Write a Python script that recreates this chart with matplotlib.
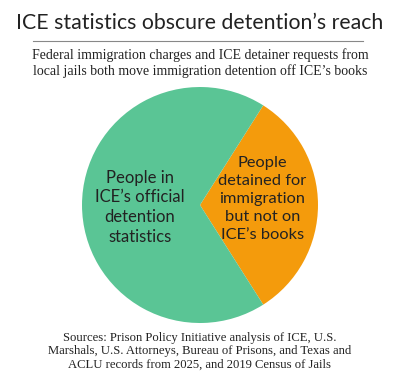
import matplotlib
matplotlib.use("Agg")
import matplotlib.pyplot as plt

# share of people detained for immigration
labels = ["People\ndetained for\nimmigration\nbut not on\nICE\u2019s books",
          "People in\nICE\u2019s official\ndetention\nstatistics"]
shares = [32, 68]
colors = ["#F49B0C", "#5AC595"]

fig = plt.figure(figsize=(4, 3.8), dpi=100)
fig.patch.set_facecolor("white")

# title + rule + subtitle
fig.text(0.5, 0.94, "ICE statistics obscure detention\u2019s reach",
         ha="center", va="center", fontsize=15.3, family="Lato", color="#222222")
fig.add_artist(plt.Line2D([0.083, 0.908], [0.892, 0.892], color="#888888", lw=0.8))
fig.text(0.5, 0.835, "Federal immigration charges and ICE detainer requests from\n"
         "local jails both move immigration detention off ICE\u2019s books",
         ha="center", va="center", fontsize=10, family="Liberation Serif",
         color="#222222", linespacing=1.2)

ax = fig.add_axes([0.205, 0.15, 0.59, 0.621])
ax.pie(shares, colors=colors, startangle=-57.6, counterclock=True,
       wedgeprops=dict(linewidth=0))
ax.set_xlim(-1, 1)
ax.set_ylim(-1, 1)
ax.axis("off")

ax.text(0.53, 0.05, labels[0], ha="center", va="center", fontsize=11.8,
        family="Lato", color="#222222", linespacing=1.38)
ax.text(-0.51, -0.02, labels[1], ha="center", va="center", fontsize=12,
        family="Lato", color="#222222", linespacing=1.3)

fig.text(0.5, 0.076, "Sources: Prison Policy Initiative analysis of ICE, U.S.\n"
         "Marshals, U.S. Attorneys, Bureau of Prisons, and Texas and\n"
         "ACLU records from 2025, and 2019 Census of Jails",
         ha="center", va="center", fontsize=9.1, family="Liberation Serif",
         color="#222222", linespacing=1.15)

fig.savefig("out.png", dpi=100)
